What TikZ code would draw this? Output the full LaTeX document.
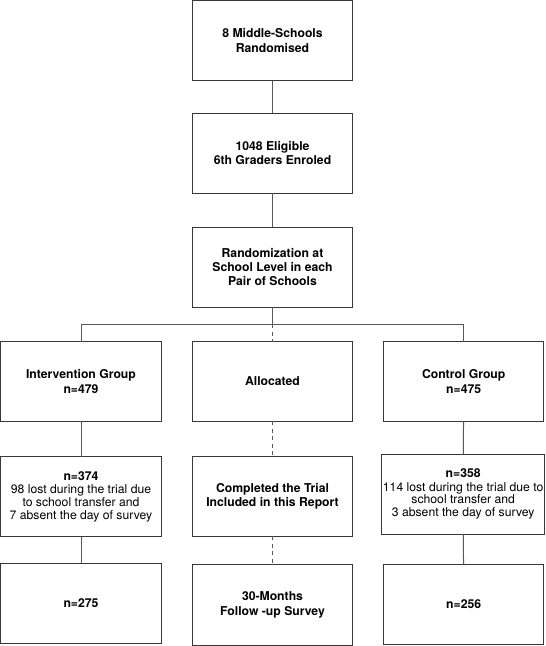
\documentclass[tikz,border=0pt]{standalone}
\usepackage{fontspec}
\setmainfont{TeX Gyre Heros}
\begin{document}
\begin{tikzpicture}[x=1pt,y=-1pt,
  box/.style={draw=black!78,line width=1pt,minimum width=160.5pt,minimum height=80pt,inner sep=0pt,outer sep=0pt,align=center,font=\fontsize{12.2}{14.3}\selectfont\bfseries},
  smallbox/.style={box,font=\fontsize{12.2}{12.8}\selectfont},
  conn/.style={draw=black!65,line width=1pt},
  dconn/.style={conn,dash pattern=on 4pt off 3.5pt}]
\useasboundingbox (0,0) rectangle (546,646);
\node[box] (A) at (272.5,40.5) {8 Middle-Schools\\Randomised};
\node[box] (B) at (272.5,153) {1048 Eligible\\6th Graders Enroled};
\node[box] (C) at (272.5,267) {Randomization at\\School Level in each\\Pair of Schools};
\node[box,minimum width=161pt,minimum height=79.5pt] (I) at (81,381.5) {Intervention Group\\n=479};
\node[box,minimum height=79.5pt] (M) at (272.5,381.5) {Allocated};
\node[box,minimum height=79.5pt] (K) at (463.7,381.5) {Control Group\\n=475};
\node[smallbox,minimum width=161pt] (I2) at (81,496.7) {\textbf{n=374}\\[1pt]98 lost during the trial due\\to school transfer and\\7 absent the day of survey};
\node[box] (M2) at (272.5,496) {Completed the Trial\\Included in this Report};
\node[smallbox,minimum width=163pt] (K2) at (463.2,494) {\textbf{n=358}\\[1pt]114 lost during the trial due to\\school transfer and\\3 absent the day of survey};
\node[box,minimum width=161pt] (I3) at (81,603.3) {n=275};
\node[box,minimum height=81pt] (M3) at (272.5,605) {30-Months\\Follow -up Survey};
\node[box] (K3) at (463.7,604) {n=256};
\coordinate (J) at (272.5,324);
\coordinate (JL) at (I.north |- J);
\coordinate (JR) at (K.north |- J);
\draw[conn] (A) -- (B);
\draw[conn] (B) -- (C);
\draw[conn] (C) -- (J);
\draw[conn] (I) -- (JL) -- (JR) -- (K);
\draw[dconn] (J) -- (M);
\draw[conn] (I) -- (I2);
\draw[conn] (I2) -- (I3);
\draw[dconn] (M) -- (M2);
\draw[dconn] (M2) -- (M3);
\draw[conn] (K) -- (K2);
\draw[conn] (K2) -- (K3);
\end{tikzpicture}
\end{document}
